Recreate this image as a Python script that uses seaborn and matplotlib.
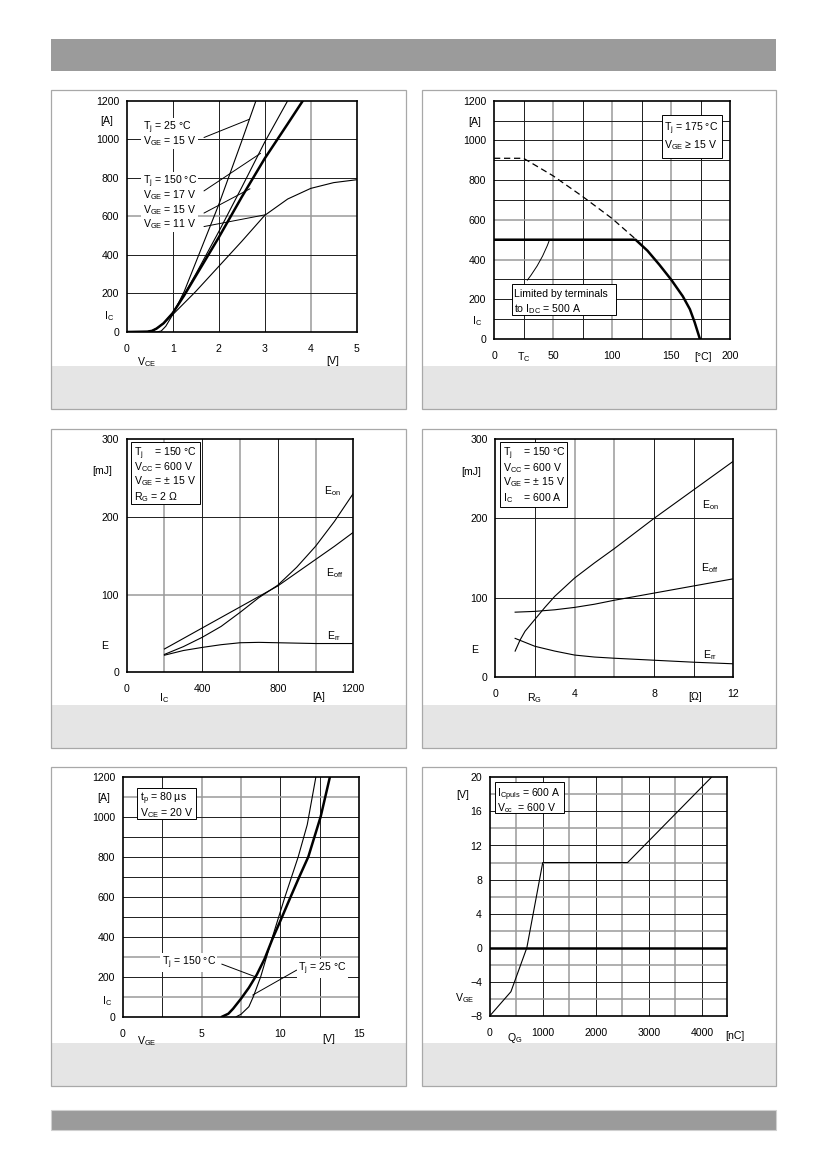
import matplotlib
matplotlib.use("Agg")
import matplotlib.pyplot as plt
import seaborn as sns
from matplotlib.patches import Rectangle

plt.rcParams['font.family'] = ['Liberation Sans', 'DejaVu Sans']
plt.rcParams['mathtext.fontset'] = 'custom'
plt.rcParams['mathtext.rm'] = 'Liberation Sans'
plt.rcParams['mathtext.it'] = 'Liberation Sans:italic'
plt.rcParams['mathtext.default'] = 'regular'

# ---------------- DATA ----------------
# Panel 1: output characteristic I_C = f(V_CE)
vce_25_15 = [0, 0.65, 0.75, 0.85, 1.0, 1.25, 1.5, 2.0, 2.5, 2.81]
ic_25_15 = [0, 0, 5, 30, 90, 210, 360, 660, 990, 1200]
vce_150_17 = [0, 0.45, 0.55, 0.65, 0.8, 1.0, 1.25, 1.5, 2.0, 2.5, 3.0, 3.5]
ic_150_17 = [0, 2, 6, 18, 45, 100, 195, 300, 520, 750, 985, 1200]
vce_150_15 = [0, 0.45, 0.55, 0.65, 0.8, 1.0, 1.25, 1.5, 2.0, 2.5, 3.0, 3.5, 3.83]
ic_150_15 = [0, 2, 6, 18, 45, 98, 190, 290, 490, 700, 900, 1080, 1200]
vce_150_11 = [0, 0.45, 0.55, 0.65, 0.8, 1.0, 1.5, 2.0, 2.5, 3.0, 3.5, 4.0, 4.5, 5.0]
ic_150_11 = [0, 2, 6, 18, 45, 90, 210, 340, 470, 605, 690, 745, 775, 790]

# Panel 2: rated current vs case temperature
tc_ext = [0, 25, 50, 75, 100, 120]
ic_ext = [910, 910, 822, 718, 607, 503]
tc_lim = [0, 120, 130, 140, 150, 160, 166, 170, 174.5]
ic_lim = [500, 500, 445, 375, 300, 215, 150, 85, 0]

# Panel 3: switching energy vs I_C
ic_e = [200, 300, 400, 500, 600, 700, 800, 900, 1000, 1100, 1200]
eon_ic = [23, 33, 45, 59, 77, 96, 112, 135, 162, 194, 230]
eoff_ic = [30, 43.5, 57, 70.5, 84, 97.5, 111, 128, 145, 162, 180]
err_ic = [22, 28, 32, 35.5, 38, 38.5, 38, 37.5, 37, 37, 37]

# Panel 4: switching energy vs R_G
rg_on = [1.0, 1.25, 1.5, 2, 2.5, 3, 4, 5, 6, 7, 8, 10, 12]
eon_rg = [33, 47, 58, 73, 88, 102, 125, 144, 162, 181, 200, 236, 272]
rg_off = [1.0, 2, 3, 4, 5, 6, 8, 10, 12]
eoff_rg = [82, 83, 85, 88, 92, 97, 106, 115, 124]
rg_rr = [1.0, 1.5, 2, 3, 4, 5, 6, 8, 10, 12]
err_rg = [49, 44, 39, 33, 28, 25.5, 24, 21.5, 19, 17]

# Panel 5: transfer characteristic I_C = f(V_GE)
vge_150 = [6.3, 6.7, 7.0, 7.5, 8.0, 8.5, 9.0, 9.5, 10.0, 10.65, 11.2, 11.77, 12.55, 13.14]
ic_t150 = [0, 15, 40, 90, 145, 210, 290, 390, 480, 600, 700, 800, 1000, 1200]
vge_25 = [7.2, 7.5, 8.0, 8.28, 8.75, 9.2, 9.5, 10.29, 11.13, 11.7, 12.25]
ic_t25 = [0, 12, 50, 100, 200, 320, 400, 600, 800, 960, 1200]

# Panel 6: gate charge
qg = [0, 400, 700, 1000, 2600, 4180]
vge_q = [-8, -5.15, 0, 10, 10, 20]

# ---------------- FIGURE ----------------
W, H = 826, 1169
fig = plt.figure(figsize=(W / 100, H / 100), dpi=100)
FS = 7.6
DARK = '#1e1e1e'
GRAY = '#9a9a9a'


def frect(x0, y0, x1, y1, **kw):
    r = Rectangle((x0 / W, 1 - y1 / H), (x1 - x0) / W, (y1 - y0) / H,
                  transform=fig.transFigure, **kw)
    fig.add_artist(r)


def ftxt(x, y, s, ha='center', va='center_baseline', **kw):
    fig.text(x / W, 1 - y / H, s, ha=ha, va=va, fontsize=FS, **kw)


def make_ax(L, T, R, B):
    ax = fig.add_axes([L / W, 1 - B / H, (R - L) / W, (B - T) / H])
    for sp in ax.spines.values():
        sp.set_linewidth(1.2)
        sp.set_color('black')
        sp.set_zorder(4)
    ax.tick_params(length=0, labelsize=FS)
    ax.tick_params(axis='x', pad=8.5)
    ax.tick_params(axis='y', pad=5.5)
    return ax


def grid(ax, vd=(), vg=(), hd=(), hg=()):
    for v in vd:
        ax.axvline(v, color=DARK, lw=0.7, zorder=1)
    for v in vg:
        ax.axvline(v, color=GRAY, lw=1.1, zorder=1)
    for h in hd:
        ax.axhline(h, color=DARK, lw=0.7, zorder=1)
    for h in hg:
        ax.axhline(h, color=GRAY, lw=1.1, zorder=1)


def line(ax, x, y, lw=0.8, ls='-'):
    sns.lineplot(x=x, y=y, ax=ax, color='black', linewidth=lw, linestyle=ls,
                 sort=False, estimator=None, zorder=3)
    ax.set(xlabel='', ylabel='')


# header / footer bars
frect(51, 39, 776, 71, facecolor='#9b9b9b', edgecolor='none', zorder=-5)
frect(51, 1110, 776, 1130, facecolor='#9b9b9b', edgecolor='#d0d0d0', lw=0.8, zorder=-5)

# panel boxes
cols = [(51, 406), (422, 776)]
rows = [90, 429, 767]
for top in rows:
    for (l, r) in cols:
        frect(l, top + 276, r, top + 319, facecolor='#e5e5e5', edgecolor='none', zorder=-5)
        frect(l, top, r, top + 319, facecolor='none', edgecolor='#a8a8a8', lw=0.9, zorder=-4)

# ---------- Panel 1 ----------
ax = make_ax(126.7, 100.7, 356.7, 332)
ax.set_xlim(0, 5)
ax.set_ylim(0, 1200)
ax.set_xticks([0, 1, 2, 3, 4, 5])
ax.set_yticks([0, 200, 400, 600, 800, 1000, 1200])
grid(ax, vd=[1, 2, 3], vg=[4], hd=[200, 400, 800, 1000], hg=[600])
line(ax, vce_25_15, ic_25_15)
line(ax, vce_150_17, ic_150_17)
line(ax, vce_150_11, ic_150_11)
line(ax, vce_150_15, ic_150_15, lw=1.8)
for (x1, y1, x2, y2) in [(1.68, 1009, 2.67, 1104), (1.68, 732, 2.91, 927),
                         (1.68, 617, 2.68, 743), (1.68, 547, 3.01, 608)]:
    ax.annotate('', xy=(x2, y2), xytext=(x1, y1),
                arrowprops=dict(arrowstyle='-', lw=0.7, color='black', shrinkA=0, shrinkB=0))
wb = dict(facecolor='white', edgecolor='none', pad=1.0)
for (yy, s) in [(125, r'T$_{j}$ = 25 °C'), (139.3, r'V$_{GE}$ = 15 V'),
                (179, r'T$_{j}$ = 150 °C'), (193.3, r'V$_{GE}$ = 17 V'),
                (208.3, r'V$_{GE}$ = 15 V'), (222.3, r'V$_{GE}$ = 11 V')]:
    ftxt(142.7, yy, s, ha='left', bbox=wb, zorder=6)
ftxt(107, 120, '[A]')
ftxt(109, 314, r'I$_{C}$')
ftxt(147, 360, r'V$_{CE}$')
ftxt(333, 360, '[V]')

# ---------- Panel 2 ----------
ax = make_ax(494, 100.7, 730, 339)
ax.set_xlim(0, 200)
ax.set_ylim(0, 1200)
ax.set_xticks([0, 50, 100, 150, 200])
ax.set_yticks([0, 200, 400, 600, 800, 1000, 1200])
grid(ax, vd=[25, 75, 125, 175], vg=[50, 100, 150],
     hd=[100, 200, 300, 500, 700, 800, 900, 1000, 1100], hg=[400, 600])
line(ax, tc_ext, ic_ext, lw=0.9, ls=(0, (5, 3)))
line(ax, tc_lim, ic_lim, lw=1.8)
ax.annotate('', xy=(46.9, 497), xytext=(28.2, 296),
            arrowprops=dict(arrowstyle='-', lw=0.7, color='black', shrinkA=0, shrinkB=0,
                            connectionstyle='arc3,rad=0.08'))
frect(661.7, 115, 721.7, 157.7, facecolor='white', edgecolor='black', lw=0.7, zorder=5)
ftxt(664.3, 126, r'T$_{j}$ = 175 °C', ha='left', zorder=6)
ftxt(664.3, 143, r'V$_{GE}$ ≥ 15 V', ha='left', zorder=6)
frect(511.7, 284.3, 616, 315, facecolor='white', edgecolor='black', lw=0.7, zorder=5)
ftxt(513.7, 293, 'Limited by terminals', ha='left', zorder=6)
ftxt(513.7, 307, r'to I$_{DC}$ = 500 A', ha='left', zorder=6)
ftxt(474.3, 121, '[A]')
ftxt(477.3, 319, r'I$_{C}$')
ftxt(523.3, 355, r'T$_{C}$')
ftxt(703.3, 356, '[°C]')

# ---------- Panel 3 ----------
ax = make_ax(126.7, 439, 353.3, 672.3)
ax.set_xlim(0, 1200)
ax.set_ylim(0, 300)
ax.set_xticks([0, 400, 800, 1200])
ax.set_yticks([0, 100, 200, 300])
grid(ax, vd=[400, 800], vg=[200, 600, 1000], hd=[200], hg=[100])
line(ax, ic_e, eon_ic)
line(ax, ic_e, eoff_ic)
line(ax, ic_e, err_ic)
frect(131, 441.7, 200, 504, facecolor='white', edgecolor='black', lw=0.7, zorder=5)
for (yy, s) in [(451, r'T$_{j}$    = 150 °C'), (465.3, r'V$_{CC}$ = 600 V'),
                (479.3, r'V$_{GE}$ = ± 15 V'), (495.3, r'R$_{G}$ = 2 Ω')]:
    ftxt(134, yy, s, ha='left', zorder=6)
ftxt(332.7, 489, r'E$_{on}$')
ftxt(335, 571, r'E$_{off}$')
ftxt(334, 634, r'E$_{rr}$')
ftxt(101.7, 470, '[mJ]')
ftxt(105, 645, 'E')
ftxt(164, 696, r'I$_{C}$')
ftxt(318.3, 696, '[A]')

# ---------- Panel 4 ----------
ax = make_ax(495.3, 439, 733.3, 677.3)
ax.set_xlim(0, 12)
ax.set_ylim(0, 300)
ax.set_xticks([0, 4, 8, 12])
ax.set_yticks([0, 100, 200, 300])
grid(ax, vd=[2, 8, 10], vg=[4, 6], hd=[100, 200])
line(ax, rg_on, eon_rg)
line(ax, rg_off, eoff_rg)
line(ax, rg_rr, err_rg)
frect(500, 441.7, 566.7, 506.7, facecolor='white', edgecolor='black', lw=0.7, zorder=5)
for (yy, s) in [(451, r'T$_{j}$    = 150 °C'), (466, r'V$_{CC}$ = 600 V'),
                (480.3, r'V$_{GE}$ = ± 15 V'), (496, r'I$_{C}$    = 600 A')]:
    ftxt(503.3, yy, s, ha='left', zorder=6)
ftxt(710, 503, r'E$_{on}$')
ftxt(710, 566, r'E$_{off}$')
ftxt(710, 653, r'E$_{rr}$')
ftxt(471, 471, '[mJ]')
ftxt(475, 649, 'E')
ftxt(534, 696, r'R$_{G}$')
ftxt(695, 696, '[Ω]')

# ---------- Panel 5 ----------
ax = make_ax(122.7, 776.7, 359.3, 1016.7)
ax.set_xlim(0, 15)
ax.set_ylim(0, 1200)
ax.set_xticks([0, 5, 10, 15])
ax.set_yticks([0, 200, 400, 600, 800, 1000, 1200])
grid(ax, vd=[2.5, 10, 12.5], vg=[5, 7.5],
     hd=[200, 400, 500, 600, 700, 800, 900, 1000], hg=[100, 300, 1100])
line(ax, vge_25, ic_t25)
line(ax, vge_150, ic_t150, lw=1.8)
for (x1, y1, x2, y2) in [(6.28, 263, 8.5, 197), (11.03, 233, 8.24, 108)]:
    ax.annotate('', xy=(x2, y2), xytext=(x1, y1),
                arrowprops=dict(arrowstyle='-', lw=0.7, color='black', shrinkA=0, shrinkB=0))
ftxt(161.7, 960, r'T$_{j}$ = 150 °C', ha='left', bbox=wb, zorder=6)
ftxt(298.3, 966, r'T$_{j}$ = 25 °C', ha='left', bbox=wb, zorder=6)
frect(137.3, 788.3, 196, 819.3, facecolor='white', edgecolor='black', lw=0.7, zorder=5)
ftxt(140, 796, r't$_{p}$ = 80 µs', ha='left', zorder=6)
ftxt(140, 811, r'V$_{CE}$ = 20 V', ha='left', zorder=6)
ftxt(103.3, 797, '[A]')
ftxt(106.7, 999, r'I$_{C}$')
ftxt(146.7, 1039, r'V$_{GE}$')
ftxt(328.3, 1038, '[V]')

# ---------- Panel 6 ----------
ax = make_ax(489.7, 777.3, 727.3, 1016)
ax.set_xlim(0, 4480)
ax.set_ylim(-8, 20)
ax.set_xticks([0, 1000, 2000, 3000, 4000])
ax.set_yticks([-8, -4, 0, 4, 8, 12, 16, 20])
grid(ax, vd=[1000, 2000, 3000, 4000], vg=[500, 1500, 2500, 3500],
     hd=[-4, 4, 8, 12, 16], hg=[-6, -2, 2, 6, 10, 14, 18])
ax.axhline(0, color='black', lw=1.8, zorder=2)
line(ax, qg, vge_q)
frect(495, 781.7, 564, 813.3, facecolor='white', edgecolor='black', lw=0.7, zorder=5)
ftxt(497.3, 792, r'I$_{Cpuls}$ = 600 A', ha='left', zorder=6)
ftxt(497.3, 806, r'V$_{cc}$  = 600 V', ha='left', zorder=6)
ftxt(462.7, 794, '[V]')
ftxt(465, 996, r'V$_{GE}$')
ftxt(515, 1036, r'Q$_{G}$')
ftxt(735, 1035, '[nC]')

fig.savefig('out.png', dpi=100)
